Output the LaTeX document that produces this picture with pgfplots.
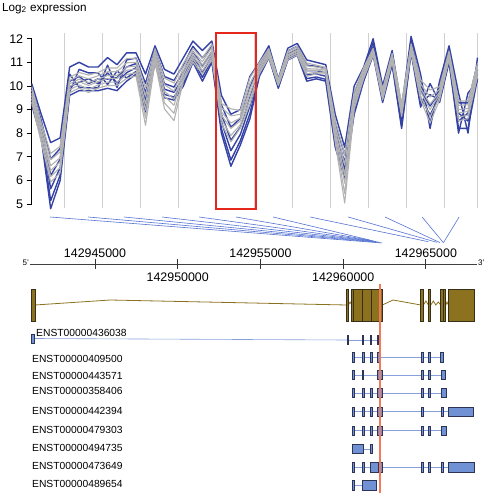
\documentclass[border=0pt]{standalone}
\usepackage{fontspec}
\setmainfont{Liberation Sans}
\usepackage{pgfplots}
\usepackage{pgfplotstable}
\pgfplotsset{compat=1.18}

\definecolor{probeblue}{RGB}{52,66,165}
\definecolor{probegray}{RGB}{178,178,178}
\definecolor{sepgray}{RGB}{208,208,208}
\definecolor{boxred}{RGB}{228,38,28}
\definecolor{linkblue}{RGB}{85,115,210}
\definecolor{geneolive}{RGB}{140,114,30}
\definecolor{genedark}{RGB}{55,48,25}
\definecolor{txfill}{RGB}{112,146,212}
\definecolor{txedge}{RGB}{45,52,85}
\definecolor{txline}{RGB}{135,160,220}
\definecolor{snporange}{RGB}{242,122,92}

% log2 expression per probe, 6 blue and 6 grey samples
\pgfplotstableread{
i  B1 B2 B3 B4 B5 B6 G1 G2 G3 G4 G5 G6
0  10.1 9.9 9.65 9.5 9.3 9.2 9.97 9.83 9.69 9.58 9.44 9.31
1  8.8 8.55 8.3 8.1 7.92 7.8 8.46 8.28 8.1 7.96 7.78 7.62
2  7.6 6.9 6.2 5.64 5.14 4.8 7.14 6.88 6.62 6.42 6.16 5.93
3  7.8 7.35 6.9 6.54 6.22 6.0 7.44 7.2 6.96 6.78 6.54 6.32
4  10.8 10.5 10.2 9.96 9.74 9.6 10.37 10.23 10.09 9.98 9.84 9.71
5  11.0 9.94 10.4 10.16 10.7 9.8 10.57 10.43 10.29 10.18 10.04 9.91
6  10.8 9.92 10.1 10.3 10.55 9.8 10.46 10.3 10.14 10.02 9.86 9.72
7  10.8 9.92 10.3 10.1 10.55 9.8 10.57 10.43 10.29 10.18 10.04 9.91
8  11.2 10.88 10.29 10.55 10.06 9.9 10.76 10.6 10.44 10.32 10.16 10.02
9  10.9 9.93 10.35 10.13 10.63 9.8 10.76 10.6 10.44 10.32 10.16 10.02
10 11.4 11.1 10.8 10.56 10.34 10.2 11.16 10.98 10.8 10.66 10.48 10.32
11 11.4 11.18 10.95 10.77 10.61 10.5 11.16 11.0 10.84 10.72 10.56 10.42
12 10.5 10.1 9.7 9.38 9.09 8.9 9.92 9.58 9.24 8.98 8.64 8.33
13 11.7 11.53 11.35 11.21 11.08 11.0 11.57 11.45 11.33 11.24 11.12 11.01
14 10.7 10.4 10.1 9.86 9.64 9.5 10.33 10.05 9.77 9.56 9.28 9.03
15 10.5 10.23 9.95 9.73 9.53 9.4 10.12 9.78 9.44 9.18 8.84 8.53
16 11.2 10.9 10.6 10.36 10.14 10.0 10.96 10.8 10.64 10.52 10.36 10.22
17 11.9 11.68 11.45 11.27 11.11 11.0 11.57 11.45 11.33 11.24 11.12 11.01
18 11.5 11.18 10.85 10.59 10.36 10.2 11.17 11.03 10.89 10.78 10.64 10.51
19 11.9 11.68 11.45 11.27 11.11 11.0 11.77 11.63 11.49 11.38 11.24 11.11
20 9.6 9.2 8.8 8.48 8.19 8.0 9.26 9.08 8.9 8.76 8.58 8.42
21 8.8 8.25 7.7 7.26 6.86 6.6 9.03 8.73 8.43 8.2 7.9 7.63
22 9.0 8.63 8.25 7.95 7.68 7.5 8.96 8.8 8.64 8.52 8.36 8.22
23 10.4 9.95 9.5 9.14 8.82 8.6 10.34 10.1 9.86 9.68 9.44 9.22
24 11.0 10.85 10.7 10.58 10.47 10.4 10.98 10.88 10.78 10.7 10.6 10.51
25 11.7 11.58 11.45 11.35 11.26 11.2 11.58 11.5 11.42 11.36 11.28 11.21
26 10.3 10.2 10.1 10.02 9.95 9.9 10.29 10.23 10.17 10.12 10.06 10.01
27 11.6 11.48 11.35 11.25 11.16 11.1 11.48 11.4 11.32 11.26 11.18 11.11
28 11.8 11.68 11.55 11.45 11.36 11.3 11.68 11.6 11.52 11.46 11.38 11.31
29 11.1 10.88 10.65 10.47 10.31 10.2 10.97 10.85 10.73 10.64 10.52 10.41
30 11.0 10.83 10.65 10.51 10.38 10.3 10.88 10.8 10.72 10.66 10.58 10.51
31 10.9 10.73 10.55 10.41 10.28 10.2 10.79 10.73 10.67 10.62 10.56 10.51
32 8.8 8.45 8.1 7.82 7.57 7.4 8.55 8.35 8.15 8.0 7.8 7.62
33 7.4 7.08 6.75 6.49 6.26 6.1 7.09 6.65 6.21 5.88 5.44 5.04
34 10.0 9.7 9.4 9.16 8.94 8.8 9.76 9.6 9.44 9.32 9.16 9.02
35 10.8 10.65 10.5 10.38 10.27 10.2 10.78 10.68 10.58 10.5 10.4 10.31
36 12.0 11.83 11.65 11.51 11.38 11.3 11.59 11.53 11.47 11.42 11.36 11.31
37 10.0 9.83 9.65 9.51 9.38 9.3 9.88 9.78 9.68 9.6 9.5 9.41
38 11.5 11.35 11.2 11.08 10.97 10.9 11.38 11.3 11.22 11.16 11.08 11.01
39 9.1 8.88 8.65 8.47 8.31 8.2 9.27 9.15 9.03 8.94 8.82 8.71
40 12.1 11.93 11.75 11.61 11.48 11.4 11.78 11.7 11.62 11.56 11.48 11.41
41 10.5 10.15 9.8 9.52 9.27 9.1 10.26 10.08 9.9 9.76 9.58 9.42
42 8.2 8.43 9.15 8.77 9.63 10.1 9.83 9.53 9.23 9.0 8.7 8.43
43 10.2 9.98 9.75 9.57 9.41 9.3 9.97 9.85 9.73 9.64 9.52 9.41
44 11.7 11.53 11.35 11.21 11.08 11.0 11.48 11.4 11.32 11.26 11.18 11.11
45 9.7 9.28 8.85 8.51 8.2 8.0 9.36 9.18 9.0 8.86 8.68 8.52
46 8.0 9.28 8.51 8.85 8.2 9.7 9.36 9.2 9.04 8.92 8.76 8.62
47 11.2 10.95 10.7 10.5 10.32 10.2 10.97 10.85 10.73 10.64 10.52 10.41
}\expr

% gene panel: x in kb from 142940000, y in rows (top down)
\newcommand{\ex}[3]{\draw[fill=txfill, draw=txedge, line width=0.5pt] (axis cs:#1,{#3-4.6}) rectangle (axis cs:#2,{#3+4.6});}
\newcommand{\gx}[2]{\draw[fill=geneolive, draw=genedark, line width=0.6pt] (axis cs:#1,289) rectangle (axis cs:#2,321);}
\newcommand{\tx}[3]{\addplot[txline, line width=0.6pt] coordinates {(#1,#3) (#2,#3)};}
\newcommand{\lab}[2]{\node[anchor=west, font=\fontsize{10.3}{11}\selectfont, inner sep=0pt] at (axis cs:1.19,#2) {#1};}

\begin{document}
\begin{tikzpicture}
\useasboundingbox (0pt,0pt) rectangle (492pt,495pt);

\node[anchor=west, inner sep=0pt, font=\fontsize{11.7}{12}\selectfont] at (2pt,487pt) {Log\textsubscript{2} expression};

\begin{axis}[
    at={(31.7pt,291pt)}, anchor=south west,
    width=445.8pt, height=165.3pt, scale only axis,
    xmin=0, xmax=47, ymin=5, ymax=12,
    axis x line=none, axis y line=left,
    axis line style={-, black, line width=0.7pt},
    ytick={5,6,...,12},
    tick align=outside, major tick length=5pt,
    tick style={black, line width=0.7pt},
    yticklabel style={font=\fontsize{12.5}{12.5}\selectfont},
    /pgf/number format/assume math mode=true,
    clip=false
]
\pgfplotsinvokeforeach{3.5,7.5,11.5,15.5,19.5,23.5,27.5,31.5,35.5,39.5,43.5,47}{
  \addplot[sepgray, line width=0.8pt] coordinates {(#1,4.82) (#1,12.24)};
}
\pgfplotsinvokeforeach{B1,B2,B3,B4,B5,B6}{
  \addplot[probeblue, line width=1.4pt, line join=round] table[x=i, y=#1] {\expr};
}
\pgfplotsinvokeforeach{G1,G2,G3,G4,G5,G6}{
  \addplot[probegray, line width=1.1pt, line join=round] table[x=i, y=#1] {\expr};
}
\draw[boxred, line width=1.8pt] (axis cs:19.45,4.78) rectangle (axis cs:23.65,12.24);
\end{axis}

\begin{axis}[
    at={(30pt,0pt)}, anchor=south west,
    width=447pt, height=280pt, scale only axis,
    xmin=1.07, xmax=28.09, ymin=215, ymax=495, y dir=reverse,
    hide axis, clip=false
]
% probe to genome links
\addplot[linkblue, line width=0.6pt] coordinates {(2.28,217) (22.35,243)};
\addplot[linkblue, line width=0.6pt] coordinates {(4.58,217) (22.25,242.5)};
\addplot[linkblue, line width=0.6pt] coordinates {(6.75,217) (22.12,242)};
\addplot[linkblue, line width=0.6pt] coordinates {(9.05,217) (21.98,241.5)};
\addplot[linkblue, line width=0.6pt] coordinates {(11.29,217) (21.85,241)};
\addplot[linkblue, line width=0.6pt] coordinates {(13.52,217) (21.72,240.5)};
\addplot[linkblue, line width=0.6pt] coordinates {(15.76,217) (21.6,240)};
\addplot[linkblue, line width=0.6pt] coordinates {(18.0,217) (25.15,241.7)};
\addplot[linkblue, line width=0.6pt] coordinates {(20.3,217) (25.66,242.3)};
\addplot[linkblue, line width=0.6pt] coordinates {(22.53,217) (25.86,242.7)};
\addplot[linkblue, line width=0.6pt] coordinates {(24.77,217) (26.06,242.7)};
\addplot[linkblue, line width=0.6pt] coordinates {(27.01,217) (26.06,242.7)};

% genome coordinate axis
\addplot[black!75, line width=0.7pt] coordinates {(1.07,264) (28.09,264)};
\pgfplotsinvokeforeach{5,10,15,20,25}{
  \addplot[black!80, line width=0.8pt] coordinates {(#1,259) (#1,269)};
}
\node[font=\fontsize{12.4}{13}\selectfont] at (axis cs:5,253.5) {142945000};
\node[font=\fontsize{12.4}{13}\selectfont] at (axis cs:10,277) {142950000};
\node[font=\fontsize{12.4}{13}\selectfont] at (axis cs:15,253.5) {142955000};
\node[font=\fontsize{12.4}{13}\selectfont] at (axis cs:20,277) {142960000};
\node[font=\fontsize{12.4}{13}\selectfont] at (axis cs:25,253.5) {142965000};
\node[anchor=east, inner sep=1pt, font=\fontsize{8}{9}\selectfont] at (axis cs:1.07,262.5) {5'};
\node[anchor=west, inner sep=1pt, font=\fontsize{8}{9}\selectfont] at (axis cs:28.09,262.5) {3'};

% gene model
\addplot[geneolive, line width=0.8pt] coordinates {
  (1.372,305) (5.907,300) (20.218,305) (20.314,305) (20.42,302) (20.52,305)
  (22.37,305) (23.017,300) (24.692,305) (24.849,305) (25.0,301) (25.151,305)
  (25.296,305) (25.45,301) (25.6,305) (25.75,302) (25.901,305) (26.203,305)
  (26.28,302) (26.36,305)};
\gx{1.173}{1.372}
\gx{20.218}{20.314}
\gx{20.52}{22.37}
\gx{24.692}{24.849}
\gx{25.151}{25.296}
\gx{25.901}{26.203}
\gx{26.36}{27.93}
\pgfplotsinvokeforeach{20.617,21.185,21.687,22.189,26.058}{
  \addplot[genedark, line width=0.6pt] coordinates {(#1,289) (#1,321)};
}

% transcripts
\addplot[txline, line width=0.6pt] coordinates {(1.33,338.5) (20.218,340)};
\tx{20.218}{22.15}{340}
\ex{1.173}{1.33}{338.5}
\ex{20.218}{20.30}{340} \ex{21.161}{21.22}{340} \ex{21.626}{21.69}{340} \ex{22.09}{22.15}{340}
\node[anchor=west, font=\fontsize{10.3}{11}\selectfont, inner sep=0pt] at (axis cs:1.433,332.5) {ENST00000436038};

\tx{20.52}{26.058}{357.3}
\ex{20.52}{20.66}{357.3} \ex{21.161}{21.263}{357.3} \ex{21.626}{21.729}{357.3} \ex{22.068}{22.17}{357.3}
\ex{24.692}{24.813}{357.3} \ex{25.151}{25.254}{357.3} \ex{25.858}{26.058}{357.3}
\lab{ENST00000409500}{358.5}

\tx{20.52}{26.161}{375}
\ex{20.52}{20.66}{375} \ex{21.161}{21.22}{375} \ex{22.068}{22.334}{375}
\ex{24.692}{24.813}{375} \ex{25.151}{25.254}{375} \ex{25.901}{26.161}{375}
\lab{ENST00000443571}{375.5}

\tx{20.52}{26.203}{393}
\ex{20.52}{20.66}{393} \ex{21.161}{21.263}{393} \ex{21.626}{21.729}{393} \ex{22.068}{22.334}{393}
\ex{24.692}{24.813}{393} \ex{25.151}{25.254}{393} \ex{25.901}{26.203}{393}
\lab{ENST00000358406}{391}

\tx{20.52}{27.836}{411.7}
\ex{20.52}{20.66}{411.7} \ex{21.161}{21.263}{411.7} \ex{21.626}{21.729}{411.7} \ex{22.068}{22.334}{411.7}
\ex{24.692}{24.813}{411.7} \ex{25.901}{26.058}{411.7} \ex{26.36}{27.836}{411.7}
\lab{ENST00000442394}{411}

\tx{20.52}{26.203}{430.7}
\ex{20.52}{20.66}{430.7} \ex{21.161}{21.263}{430.7} \ex{21.626}{21.729}{430.7} \ex{22.068}{22.37}{430.7}
\ex{24.692}{24.813}{430.7} \ex{25.151}{25.254}{430.7} \ex{25.901}{26.203}{430.7}
\lab{ENST00000479303}{429.5}

\tx{20.556}{21.729}{449}
\ex{20.556}{21.221}{449} \ex{21.626}{21.729}{449}
\lab{ENST00000494735}{448}

\tx{20.556}{27.93}{467.3}
\ex{20.556}{20.66}{467.3} \ex{21.161}{21.263}{467.3} \ex{21.626}{22.128}{467.3} \ex{22.231}{22.37}{467.3}
\ex{24.692}{24.813}{467.3} \ex{25.151}{25.254}{467.3} \ex{25.901}{26.058}{467.3} \ex{26.36}{27.93}{467.3}
\lab{ENST00000473649}{465.5}

\tx{20.556}{21.971}{485.3}
\ex{20.556}{20.66}{485.3} \ex{21.161}{21.971}{485.3}
\lab{ENST00000489654}{484}

% variant position
\addplot[snporange, line width=1.3pt] coordinates {(22.231,284) (22.231,493)};
\end{axis}
\end{tikzpicture}
\end{document}
